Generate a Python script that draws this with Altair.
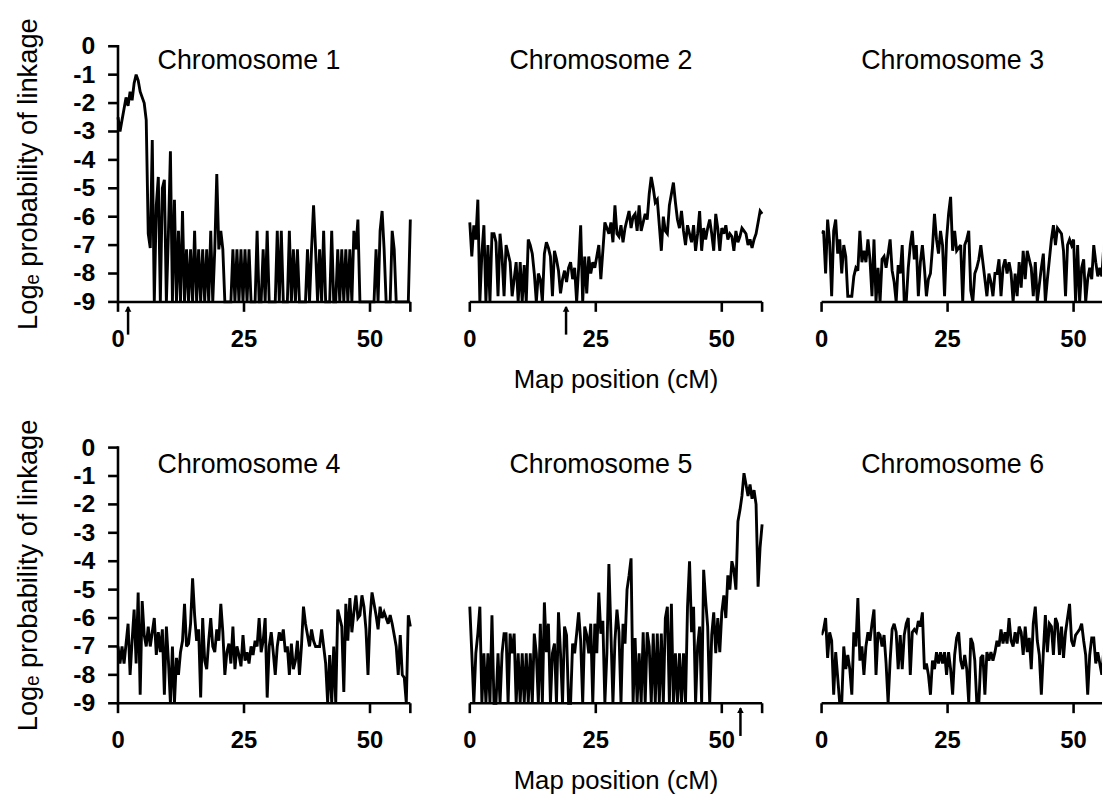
import altair as alt
import pandas as pd

FONT = "Liberation Sans"

# Map positions (cM) at which the log-probability was evaluated
MAP_POS = [
    0.0, 0.4, 0.8, 1.2, 1.6, 2.0, 2.4, 2.8, 3.2, 3.6,
    4.0, 4.4, 4.8, 5.2, 5.6, 6.0, 6.4, 6.8, 7.2, 7.6,
    8.0, 8.4, 8.8, 9.2, 9.6, 10.0, 10.4, 10.8, 11.2, 11.6,
    12.0, 12.4, 12.8, 13.2, 13.6, 14.0, 14.4, 14.8, 15.2, 15.6,
    16.0, 16.4, 16.8, 17.2, 17.6, 18.0, 18.4, 18.8, 19.2, 19.6,
    20.0, 20.4, 20.8, 21.2, 21.6, 22.0, 22.4, 22.8, 23.2, 23.6,
    24.0, 24.4, 24.8, 25.2, 25.6, 26.0, 26.4, 26.8, 27.2, 27.6,
    28.0, 28.4, 28.8, 29.2, 29.6, 30.0, 30.4, 30.8, 31.2, 31.6,
    32.0, 32.4, 32.8, 33.2, 33.6, 34.0, 34.4, 34.8, 35.2, 35.6,
    36.0, 36.4, 36.8, 37.2, 37.6, 38.0, 38.4, 38.8, 39.2, 39.6,
    40.0, 40.4, 40.8, 41.2, 41.6, 42.0, 42.4, 42.8, 43.2, 43.6,
    44.0, 44.4, 44.8, 45.2, 45.6, 46.0, 46.4, 46.8, 47.2, 47.6,
    48.0, 48.4, 48.8, 49.2, 49.6, 50.0, 50.4, 50.8, 51.2, 51.6,
    52.0, 52.4, 52.8, 53.2, 53.6, 54.0, 54.4, 54.8, 55.2, 55.6,
    56.0, 56.4, 56.8, 57.2, 57.6, 58.0,
]

CHR1 = [
    -2.5, -3.0, -2.6, -2.2, -1.8, -2.1, -1.6, -1.9, -1.3, -1.0,
    -1.2, -1.6, -1.8, -2.0, -2.6, -6.6, -7.1, -3.3, -9, -5.6,
    -4.6, -9, -5.0, -4.7, -9, -6.6, -3.7, -9, -5.4, -9,
    -6.5, -9, -5.8, -9, -7.15, -9, -7.15, -9, -6.5, -9,
    -7.15, -9, -7.15, -9, -7.15, -9, -6.5, -9, -7.15, -4.5,
    -7.15, -6.5, -7.15, -9, -9, -9, -9, -7.15, -9, -7.15,
    -9, -7.15, -9, -7.15, -9, -7.15, -9, -9, -9, -6.5,
    -9, -9, -7.15, -9, -6.5, -9, -9, -9, -9, -6.5,
    -9, -6.5, -9, -9, -9, -6.5, -9, -7.15, -9, -7.15,
    -9, -9, -9, -9, -7.15, -9, -7.15, -5.6, -7.15, -9,
    -7.15, -9, -6.5, -9, -9, -9, -6.5, -9, -9, -7.15,
    -9, -7.15, -9, -7.15, -9, -7.15, -9, -6.5, -7.15, -6.1,
    -9, -9, -9, -9, -9, -9, -9, -9, -7.15, -9,
    -6.5, -5.8, -7.15, -9, -9, -9, -6.5, -7.15, -9, -9,
    -9, -9, -9, -9, -9, -6.1,
]

CHR2 = [
    -6.2, -7.4, -6.3, -6.8, -5.4, -9.0, -7.3, -6.3, -9.0, -7.0,
    -9.0, -6.6, -6.6, -6.9, -8.8, -6.6, -7.4, -8.8, -7.0, -7.3,
    -7.6, -8.8, -8.2, -7.6, -9.0, -7.6, -9.0, -7.7, -9.0, -6.8,
    -7.0, -7.3, -8.0, -9.0, -8.0, -8.2, -9.0, -7.3, -6.9, -7.1,
    -7.4, -8.8, -7.2, -7.5, -7.9, -8.7, -8.2, -7.9, -8.3, -7.8,
    -7.6, -8.2, -7.8, -9.0, -7.8, -6.3, -9.0, -7.4, -8.7, -7.4,
    -8.0, -7.6, -7.8, -7.4, -7.0, -8.2, -7.2, -6.2, -6.4, -6.6,
    -6.2, -6.9, -5.6, -6.6, -6.7, -6.3, -6.9, -6.4, -6.1, -5.8,
    -6.4, -6.0, -5.9, -6.5, -5.6, -6.5, -6.2, -5.9, -6.1, -5.2,
    -4.6, -5.0, -5.5, -5.4, -6.3, -7.2, -6.0, -6.5, -6.6, -5.6,
    -5.2, -4.8, -5.5, -6.1, -6.4, -5.8, -6.5, -7.0, -6.3, -6.6,
    -6.9, -6.3, -7.2, -6.6, -5.8, -7.2, -6.4, -6.8, -6.4, -6.1,
    -6.6, -7.2, -5.9, -6.4, -7.2, -6.4, -6.6, -6.3, -6.8, -6.6,
    -6.7, -7.2, -6.5, -6.9, -6.7, -6.4, -6.5, -6.6, -7.0, -6.8,
    -7.1, -6.8, -6.6, -6.2, -5.8, -5.9,
]

CHR3 = [
    -6.6, -6.5, -8.0, -6.1, -6.9, -8.8, -6.5, -6.1, -7.3, -6.8,
    -8.0, -7.0, -7.4, -8.8, -8.8, -8.8, -8.1, -7.8, -7.9, -6.5,
    -7.6, -7.2, -7.6, -6.8, -7.5, -8.8, -6.8, -9.0, -7.8, -9.0,
    -7.5, -7.4, -7.8, -7.3, -6.8, -7.9, -8.3, -9.0, -7.7, -8.0,
    -7.0, -9.0, -9.0, -7.8, -7.0, -6.5, -7.5, -7.0, -8.8, -7.6,
    -7.0, -7.8, -8.8, -8.2, -8.0, -7.1, -5.9, -6.8, -7.3, -6.5,
    -7.0, -8.8, -6.8, -5.9, -5.3, -7.2, -6.5, -7.2, -7.1, -7.0,
    -9.0, -7.0, -6.8, -6.5, -8.6, -9.0, -8.0, -7.8, -7.5, -7.0,
    -7.6, -8.2, -8.8, -8.0, -8.3, -8.8, -8.0, -8.0, -7.5, -8.8,
    -7.8, -7.5, -8.0, -7.6, -8.0, -9.0, -8.0, -8.8, -7.6, -8.5,
    -7.2, -8.2, -7.2, -7.5, -7.8, -8.8, -7.6, -9.0, -8.4, -7.8,
    -7.3, -9.0, -8.2, -7.5, -6.8, -6.3, -7.0, -6.4, -6.5, -6.6,
    -7.2, -8.8, -7.0, -6.8, -7.0, -6.8, -9.0, -7.0, -9.0, -7.8,
    -7.5, -9.0, -8.2, -7.8, -8.2, -7.0, -7.6, -8.1, -7.8, -8.1,
    -7.0, -7.4, -7.8, -7.2, -7.6, -7.3,
]

CHR4 = [
    -7.0, -7.6, -7.0, -7.6, -6.9, -6.2, -8.0, -6.8, -5.7, -7.6,
    -5.1, -8.7, -5.4, -6.6, -7.0, -6.3, -7.0, -6.5, -6.0, -7.3,
    -6.5, -7.2, -6.4, -8.7, -6.3, -7.5, -9.0, -7.0, -9.0, -7.4,
    -8.0, -7.2, -6.8, -5.5, -7.0, -6.9, -6.2, -4.6, -5.9, -6.8,
    -6.4, -8.8, -6.0, -7.5, -7.8, -6.8, -6.0, -7.0, -7.2, -6.4,
    -6.8, -5.5, -6.5, -8.0, -7.2, -6.9, -7.6, -6.3, -7.8, -7.0,
    -7.3, -7.7, -6.6, -7.5, -7.2, -7.6, -7.0, -7.3, -6.8, -7.0,
    -6.0, -7.2, -6.8, -6.0, -8.8, -7.0, -6.5, -7.2, -8.0, -7.0,
    -6.5, -6.8, -6.4, -7.2, -7.0, -8.0, -6.9, -7.8, -7.5, -6.8,
    -8.0, -7.0, -5.6, -6.2, -6.6, -7.0, -6.4, -6.8, -7.0, -7.0,
    -7.0, -6.4, -7.0, -7.6, -9.0, -7.3, -9.0, -7.0, -9.0, -5.7,
    -6.0, -6.3, -8.6, -5.5, -6.8, -5.3, -6.5, -5.8, -5.2, -6.0,
    -5.9, -5.2, -5.6, -6.4, -8.0, -6.0, -5.1, -5.5, -5.9, -6.4,
    -5.6, -6.0, -5.8, -6.0, -6.2, -5.9, -6.2, -6.6, -7.0, -8.0,
    -6.6, -8.0, -8.1, -9.0, -5.9, -6.3,
]

CHR5 = [
    -5.6, -7.24, -9.0, -7.24, -6.55, -5.6, -9.0, -7.24, -9.0, -7.24,
    -9.0, -5.9, -9.0, -9.0, -7.24, -9.0, -7.24, -6.55, -6.55, -9.0,
    -6.55, -7.24, -6.55, -9.0, -7.24, -9.0, -7.24, -9.0, -7.24, -9.0,
    -7.24, -9.0, -6.55, -7.24, -9.0, -6.2, -9.0, -5.45, -7.2, -6.2,
    -9.0, -7.24, -6.9, -9.0, -5.8, -7.24, -9.0, -6.3, -6.6, -9.0,
    -9.0, -6.9, -7.24, -6.55, -5.8, -6.8, -9.0, -6.3, -6.6, -7.24,
    -6.2, -9.0, -6.2, -7.24, -5.1, -6.55, -6.1, -9.0, -7.24, -4.1,
    -6.5, -9.0, -6.8, -5.7, -6.5, -9.0, -6.2, -6.9, -5.0, -4.5,
    -3.9, -9.0, -6.7, -9.0, -7.24, -9.0, -6.5, -9.0, -6.5, -7.0,
    -9.0, -6.55, -9.0, -6.55, -9.0, -6.55, -9.0, -6.0, -5.6, -9.0,
    -5.5, -9.0, -7.24, -9.0, -7.24, -9.0, -7.24, -9.0, -5.6, -4.0,
    -6.5, -5.6, -9.0, -7.0, -6.3, -9.0, -4.3, -5.4, -6.3, -9.0,
    -6.6, -5.8, -7.24, -6.0, -7.2, -5.8, -5.2, -6.0, -4.5, -5.0,
    -4.0, -4.3, -5.0, -2.6, -2.2, -1.7, -0.9, -1.3, -1.7, -1.3,
    -1.8, -1.5, -2.0, -4.9, -3.5, -2.7,
]

CHR6 = [
    -6.6, -6.4, -6.0, -7.4, -6.5, -6.8, -8.7, -7.2, -8.1, -9.0,
    -9.0, -7.0, -7.8, -7.3, -7.8, -8.7, -6.5, -7.0, -5.3, -7.5,
    -7.0, -8.0, -7.0, -6.5, -6.8, -6.2, -5.7, -8.0, -6.5, -6.6,
    -7.0, -6.6, -7.6, -9.0, -7.5, -6.4, -6.2, -6.5, -7.8, -6.6,
    -7.8, -6.6, -6.2, -6.0, -8.0, -6.5, -6.4, -6.5, -6.1, -6.3,
    -5.8, -7.8, -7.6, -8.0, -8.7, -7.5, -7.8, -7.2, -7.6, -7.2,
    -7.6, -7.2, -8.0, -7.2, -7.8, -8.7, -7.3, -6.7, -6.5, -7.5,
    -7.8, -7.3, -7.8, -9.0, -6.7, -6.9, -7.5, -9.0, -9.0, -7.4,
    -7.3, -8.7, -7.2, -7.5, -7.2, -7.5, -7.2, -6.8, -7.0, -6.4,
    -6.9, -6.5, -6.9, -6.0, -6.8, -7.0, -6.5, -6.9, -6.3, -6.5,
    -7.3, -6.3, -7.2, -6.7, -7.8, -6.2, -5.6, -6.8, -7.3, -8.7,
    -7.2, -5.9, -7.2, -6.2, -6.3, -7.3, -6.0, -6.2, -7.3, -6.3,
    -7.4, -6.5, -6.0, -5.5, -6.8, -7.0, -6.6, -6.5, -6.4, -6.2,
    -6.8, -7.3, -8.7, -7.3, -6.7, -6.7, -7.6, -7.2, -7.6, -8.0,
    -7.1, -6.6, -7.0, -6.8, -7.2, -6.9,
]

SERIES = [CHR1, CHR2, CHR3, CHR4, CHR5, CHR6]
CHROM_LABELS = ["Chromosome 1", "Chromosome 2", "Chromosome 3",
                "Chromosome 4", "Chromosome 5", "Chromosome 6"]
LABEL_POS_CM = 26
Y_TICKS = [-9, -8, -7, -6, -5, -4, -3, -2, -1, 0]
Y_TICK_LABELS = ["-9", "-8", "-7", "-6", "-5", "-4", "-3", "-2", "-1", "0"]
X_TICKS = [0, 25, 50, 58]
X_LABEL_TICKS = [0, 25, 50]
X_TICK_LABELS = ["0", "25", "50"]
ARROW_PANEL = [0, 1, 4]
ARROW_CM = [2.0, 19.1, 53.7]

Y_TITLE = "Log\u2091 probability of linkage"
X_TITLE = "Map position (cM)"

PANEL_W = 295
PANEL_W_LAST = 283
X_MAX = 58
X_MAX_LAST = 58 * PANEL_W_LAST / PANEL_W
H = 258
TITLE_Y = [15, 18]
TICK_LEN = 10
AXIS_W = 2.6


def make_panel(k):
    row, col = divmod(k, 3)
    last = col == 2
    xmax = X_MAX_LAST if last else X_MAX
    width = PANEL_W_LAST if last else PANEL_W
    xscale = alt.Scale(domain=[0, xmax], nice=False, zero=False)
    yscale = alt.Scale(domain=[-9, 0], nice=False, zero=False)

    df = pd.DataFrame({"pos": MAP_POS, "val": SERIES[k]})
    line_kw = dict(color="black", strokeWidth=2.9, strokeJoin="miter", strokeMiterLimit=3)
    if last:
        line_kw["clip"] = True
    line = alt.Chart(df).mark_line(**line_kw).encode(
        x=alt.X("pos:Q", scale=xscale, axis=None),
        y=alt.Y("val:Q", scale=yscale, axis=None),
        order="pos:Q",
    )
    layers = [line]

    # x axis: line, ticks, tick labels (through the panel's x scale)
    xdom = alt.Chart(pd.DataFrame({"pos": [0.0], "end": [xmax]})).mark_rule(
        color="black", strokeWidth=AXIS_W
    ).encode(
        x=alt.X("pos:Q", scale=xscale, axis=None),
        x2="end:Q",
        y=alt.value(H),
    )
    xt = pd.DataFrame({"pos": [t for t in X_TICKS if t <= xmax]})
    xticks = alt.Chart(xt).mark_rule(color="black", strokeWidth=AXIS_W).encode(
        x=alt.X("pos:Q", scale=xscale, axis=None),
        y=alt.value(H),
        y2=alt.value(H + TICK_LEN),
    )
    xlab = alt.Chart(pd.DataFrame({"pos": X_LABEL_TICKS, "label": X_TICK_LABELS})).mark_text(
        font=FONT, fontSize=24, fontWeight="bold", align="center", baseline="middle", color="black"
    ).encode(
        x=alt.X("pos:Q", scale=xscale, axis=None),
        y=alt.value(H + 38),
        text="label:N",
    )
    layers += [xdom, xticks, xlab]

    if col == 1:
        xtitle = alt.Chart(pd.DataFrame({"label": [X_TITLE]})).mark_text(
            font=FONT, fontSize=26, align="center", baseline="middle", color="black"
        ).encode(
            x=alt.value(width / 2),
            y=alt.value(H + 79),
            text="label:N",
        )
        layers.append(xtitle)

    # y axis (left column only): line, ticks, labels, title
    if col == 0:
        ydom = alt.Chart(pd.DataFrame({"pos": [0.0]})).mark_rule(
            color="black", strokeWidth=AXIS_W
        ).encode(
            x=alt.X("pos:Q", scale=xscale, axis=None),
            y=alt.value(-1.3),
            y2=alt.value(H + 1.3),
        )
        yt = pd.DataFrame({"val": Y_TICKS, "label": Y_TICK_LABELS})
        yticks = alt.Chart(yt).mark_rule(color="black", strokeWidth=AXIS_W).encode(
            y=alt.Y("val:Q", scale=yscale, axis=None),
            x=alt.value(-TICK_LEN),
            x2=alt.value(0),
        )
        ylab = alt.Chart(yt).mark_text(
            font=FONT, fontSize=25, fontWeight="bold", align="right", baseline="middle", color="black"
        ).encode(
            y=alt.Y("val:Q", scale=yscale, axis=None),
            x=alt.value(-TICK_LEN - 13),
            text="label:N",
        )
        ytitle = alt.Chart(pd.DataFrame({"label": [Y_TITLE]})).mark_text(
            font=FONT, fontSize=27.5, angle=270, align="center", baseline="middle", color="black"
        ).encode(
            x=alt.value(-90),
            y=alt.value(H / 2),
            text="label:N",
        )
        layers += [ydom, yticks, ylab, ytitle]

    lab = alt.Chart(pd.DataFrame({"pos": [LABEL_POS_CM], "label": [CHROM_LABELS[k]]})).mark_text(
        font=FONT, fontSize=27, align="center", baseline="middle", color="black"
    ).encode(
        x=alt.X("pos:Q", scale=xscale, axis=None),
        y=alt.value(TITLE_Y[row]),
        text="label:N",
    )
    layers.append(lab)

    if k in ARROW_PANEL:
        apos = ARROW_CM[ARROW_PANEL.index(k)]
        adf = pd.DataFrame({"pos": [apos]})
        shaft = alt.Chart(adf).mark_rule(color="black", strokeWidth=2.5).encode(
            x=alt.X("pos:Q", scale=xscale, axis=None),
            y=alt.value(H + 5),
            y2=alt.value(H + 33),
        )
        head = alt.Chart(adf).mark_point(
            shape="triangle-up", filled=True, size=45, color="black", opacity=1
        ).encode(
            x=alt.X("pos:Q", scale=xscale, axis=None),
            y=alt.value(H + 7),
        )
        layers += [shaft, head]

    return alt.layer(*layers).properties(width=width, height=H)


rows = [
    alt.hconcat(*[make_panel(r * 3 + c) for c in range(3)], spacing=60, bounds="flush")
    for r in range(2)
]

chart = alt.vconcat(*rows, spacing=26).properties(
    padding={"left": 6, "top": 6, "right": 0, "bottom": 0},
    background="white",
).configure_view(stroke=None)

chart.save("out.html", embed_options={"renderer": "svg", "actions": False})
